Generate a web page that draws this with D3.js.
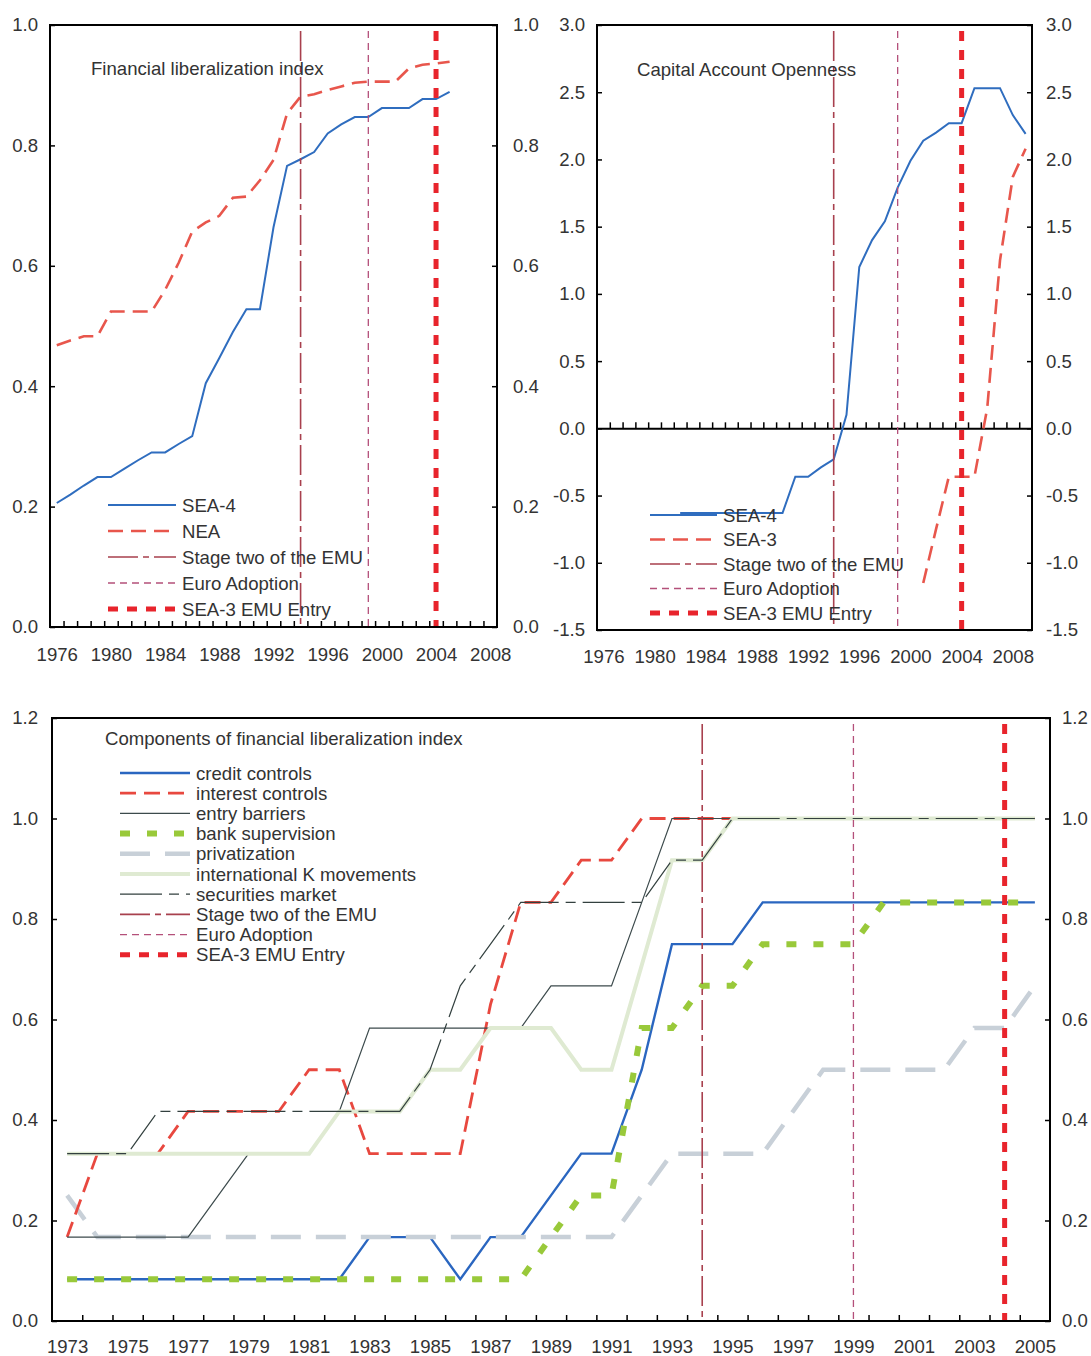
<!DOCTYPE html>
<html>
<head>
<meta charset="utf-8">
<script src="https://cdn.jsdelivr.net/npm/d3@7"></script>
<style>
body { margin: 0; background: #fff; }
text { font-family: "Liberation Sans", Arial, sans-serif; fill: #333; }
</style>
</head>
<body>
<svg id="chart" width="1091" height="1356"></svg>
<script>
// ---- data: financial liberalization index (top left)
var fliYears = [1976,1977,1978,1979,1980,1981,1982,1983,1984,1985,1986,1987,1988,1989,1990,
                1991,1992,1993,1994,1995,1996,1997,1998,1999,2000,2001,2002,2003,2004,2005];
var fliSea4 = [0.206,0.220,0.235,0.249,0.249,0.263,0.277,0.290,0.290,0.304,0.317,0.405,0.447,0.490,0.528,
               0.528,0.664,0.766,0.777,0.789,0.820,0.835,0.847,0.847,0.862,0.862,0.862,0.877,0.877,0.889];
var fliNea = [0.468,0.476,0.483,0.483,0.524,0.524,0.524,0.524,0.560,0.605,0.657,0.672,0.683,0.713,0.715,
              0.742,0.776,0.853,0.881,0.885,0.892,0.898,0.904,0.906,0.906,0.906,0.928,0.934,0.936,0.939];

// ---- data: capital account openness (top right)
var kaoSea4Years = [1982,1983,1984,1985,1986,1987,1988,1989,1990,1991,1992,1993,1994,1995,
                    1996,1997,1998,1999,2000,2001,2002,2003,2004,2005,2006,2007,2008,2009];
var kaoSea4 = [-0.63,-0.63,-0.63,-0.63,-0.63,-0.63,-0.63,-0.63,-0.63,-0.36,-0.36,-0.29,-0.23,0.10,
               1.20,1.40,1.54,1.79,1.99,2.14,2.20,2.27,2.27,2.53,2.53,2.53,2.33,2.19];
var kaoSea3Years = [2001,2002,2003,2004,2005,2006,2007,2008,2009];
var kaoSea3 = [-1.15,-0.75,-0.36,-0.36,-0.36,0.15,1.25,1.87,2.08];

// ---- data: components of the index (bottom)
var compYears = [1973,1974,1975,1976,1977,1978,1979,1980,1981,1982,1983,1984,1985,1986,1987,1988,1989,
                 1990,1991,1992,1993,1994,1995,1996,1997,1998,1999,2000,2001,2002,2003,2004,2005];
var creditControls = [0.083,0.083,0.083,0.083,0.083,0.083,0.083,0.083,0.083,0.083,0.167,0.167,0.167,0.083,0.167,0.167,0.250,
                      0.333,0.333,0.500,0.750,0.750,0.750,0.833,0.833,0.833,0.833,0.833,0.833,0.833,0.833,0.833,0.833];
var interestControls = [0.167,0.333,0.333,0.333,0.417,0.417,0.417,0.417,0.500,0.500,0.333,0.333,0.333,0.333,0.630,0.833,0.833,
                        0.917,0.917,1,1,1,1,1,1,1,1,1,1,1,1,1,1];
var entryBarriers = [0.167,0.167,0.167,0.167,0.167,0.250,0.333,0.333,0.333,0.417,0.583,0.583,0.583,0.583,0.583,0.583,0.667,
                     0.667,0.667,0.833,1,1,1,1,1,1,1,1,1,1,1,1,1];
var bankSupervision = [0.083,0.083,0.083,0.083,0.083,0.083,0.083,0.083,0.083,0.083,0.083,0.083,0.083,0.083,0.083,0.083,0.167,
                       0.250,0.250,0.583,0.583,0.667,0.667,0.750,0.750,0.750,0.750,0.833,0.833,0.833,0.833,0.833,0.833];
var privatization = [0.250,0.167,0.167,0.167,0.167,0.167,0.167,0.167,0.167,0.167,0.167,0.167,0.167,0.167,0.167,0.167,0.167,
                     0.167,0.167,0.250,0.333,0.333,0.333,0.333,0.417,0.500,0.500,0.500,0.500,0.500,0.583,0.583,0.667];
var intlKMovements = [0.333,0.333,0.333,0.333,0.333,0.333,0.333,0.333,0.333,0.417,0.417,0.417,0.500,0.500,0.583,0.583,0.583,
                      0.500,0.500,0.708,0.917,0.917,1,1,1,1,1,1,1,1,1,1,1];
var securitiesMarket = [0.333,0.333,0.333,0.417,0.417,0.417,0.417,0.417,0.417,0.417,0.417,0.417,0.500,0.667,0.750,0.833,0.833,
                        0.833,0.833,0.833,0.917,0.917,1,1,1,1,1,1,1,1,1,1,1];

// ---- events (vertical markers)
var eventNames = ["Stage two of the EMU", "Euro Adoption", "SEA-3 EMU Entry"];
var eventYears = [1994, 1999, 2004];

// ---- tick labels
var fliXLabels = [1976,1980,1984,1988,1992,1996,2000,2004,2008];
var fliYTicks = [0,0.2,0.4,0.6,0.8,1.0];
var kaoXLabels = [1976,1980,1984,1988,1992,1996,2000,2004,2008];
var kaoYTicks = [-1.5,-1.0,-0.5,0,0.5,1.0,1.5,2.0,2.5,3.0];
var compXLabels = [1973,1975,1977,1979,1981,1983,1985,1987,1989,1991,1993,1995,1997,1999,2001,2003,2005];
var compYTicks = [0,0.2,0.4,0.6,0.8,1.0,1.2];

var fontSize = 18.6;

// line looks, keyed by legend name
var looks = {
  "SEA-4":                     {color:"#2f6dbf", width:2,   dash:null},
  "NEA":                       {color:"#e8564c", width:2.6, dash:"15,8"},
  "SEA-3":                     {color:"#e8564c", width:2.6, dash:"15,8"},
  "credit controls":           {color:"#2a66c0", width:2.4, dash:null},
  "interest controls":         {color:"#e8483f", width:2.8, dash:"16,8"},
  "entry barriers":            {color:"#3c4a4c", width:1.2, dash:null},
  "bank supervision":          {color:"#99c93a", width:6,   dash:"10,17"},
  "privatization":             {color:"#c8d0d8", width:4.5, dash:"30,15"},
  "international K movements": {color:"#dfead2", width:4,   dash:null},
  "securities market":         {color:"#33403f", width:1.2, dash:"42,7,10,7"},
  "Stage two of the EMU":      {color:"#a8404e", width:1.6, dash:"30,5,6,5"},
  "Euro Adoption":             {color:"#b4507a", width:1.3, dash:"7,5"},
  "SEA-3 EMU Entry":           {color:"#e8242c", width:5,   dash:"10,9"}
};

var svg = d3.select("#chart");

function styleLine(sel, name) {
  var lk = looks[name];
  sel.attr("fill", "none")
     .attr("stroke", lk.color)
     .attr("stroke-width", lk.width)
     .attr("stroke-dasharray", lk.dash);
}

function fmt(d) { return d.toFixed(1); }

function drawPanel(p) {
  var g = svg.append("g");
  var x = d3.scaleLinear().domain(p.xDomain).range([p.left, p.right]);
  var y = d3.scaleLinear().domain(p.yDomain).range([p.bottom, p.top]);

  // y axes, ticks pointing inside
  var yl = g.append("g").attr("transform", "translate(" + p.left + ",0)")
    .call(d3.axisLeft(y).tickValues(p.yTicks).tickSizeInner(-5).tickSizeOuter(0).tickPadding(p.padL).tickFormat(fmt));
  var yr = g.append("g").attr("transform", "translate(" + p.right + ",0)")
    .call(d3.axisRight(y).tickValues(p.yTicks).tickSizeInner(-5).tickSizeOuter(0).tickPadding(p.padR).tickFormat(fmt));

  // year ticks at category borders
  var borders = d3.range(p.xDomain[0] + 1, p.xDomain[1], 1);
  var xt = g.append("g").attr("transform", "translate(0," + y(p.xAxisAt) + ")")
    .call(d3.axisBottom(x).tickValues(borders).tickSizeInner(-6).tickSizeOuter(0).tickFormat(""));
  if (p.xAxisAt != p.yDomain[0]) {
    xt.select(".domain").attr("stroke", "#000").attr("stroke-width", 2);
  }

  var xl = g.append("g").attr("transform", "translate(0," + p.bottom + ")")
    .call(d3.axisBottom(x).tickValues(p.xLabels).tickSize(0).tickPadding(p.padX).tickFormat(d3.format("d")));

  [yl, yr, xt, xl].forEach(function(a) {
    a.selectAll(".tick line").attr("stroke", "#000").attr("stroke-width", 1.5);
    a.selectAll("text").attr("font-size", fontSize).attr("font-family", null).attr("fill", "#333");
  });
  [yl, yr, xl].forEach(function(a) { a.select(".domain").remove(); });
  if (p.xAxisAt == p.yDomain[0]) xt.select(".domain").remove();

  // data series
  p.series.forEach(function(s) {
    var line = d3.line().x(function(d) { return x(d[0]); }).y(function(d) { return y(d[1]); });
    g.append("path").datum(d3.zip(s.years, s.values)).attr("d", line).call(styleLine, s.name);
  });

  // event markers
  eventNames.forEach(function(name, i) {
    g.append("line")
      .attr("x1", x(eventYears[i])).attr("x2", x(eventYears[i]))
      .attr("y1", p.top + 6).attr("y2", p.bottom)
      .call(styleLine, name);
  });

  // frame
  g.append("rect")
    .attr("x", p.left).attr("y", p.top)
    .attr("width", p.right - p.left).attr("height", p.bottom - p.top)
    .attr("fill", "none").attr("stroke", "#000").attr("stroke-width", 2);

  // title
  g.append("text").attr("x", p.titleX).attr("y", p.titleY)
    .attr("font-size", fontSize).text(p.title);

  // legend
  var lg = g.append("g");
  p.legend.forEach(function(name, i) {
    var ly = p.legY + i * p.legDy;
    lg.append("line").attr("x1", p.legX1).attr("x2", p.legX2)
      .attr("y1", ly).attr("y2", ly).call(styleLine, name);
    lg.append("text").attr("x", p.legX2 + 6).attr("y", ly).attr("dy", "0.35em")
      .attr("font-size", fontSize).text(name);
  });
}

// top left
drawPanel({
  left: 50, right: 497, top: 25, bottom: 627,
  xDomain: [1975.5, 2008.5], yDomain: [0, 1.0], xAxisAt: 0,
  yTicks: fliYTicks, xLabels: fliXLabels, padL: 12, padR: 16, padX: 21,
  series: [
    {name: "SEA-4", years: fliYears, values: fliSea4},
    {name: "NEA", years: fliYears, values: fliNea}
  ],
  title: "Financial liberalization index", titleX: 91, titleY: 75,
  legend: ["SEA-4", "NEA"].concat(eventNames),
  legX1: 108, legX2: 176, legY: 505, legDy: 26
});

// top right
drawPanel({
  left: 597, right: 1032, top: 25, bottom: 630,
  xDomain: [1975.5, 2009.5], yDomain: [-1.5, 3.0], xAxisAt: 0,
  yTicks: kaoYTicks, xLabels: kaoXLabels, padL: 12, padR: 14, padX: 20,
  series: [
    {name: "SEA-4", years: kaoSea4Years, values: kaoSea4},
    {name: "SEA-3", years: kaoSea3Years, values: kaoSea3}
  ],
  title: "Capital Account Openness", titleX: 637, titleY: 76,
  legend: ["SEA-4", "SEA-3"].concat(eventNames),
  legX1: 650, legX2: 717, legY: 515, legDy: 24.5
});

// bottom
drawPanel({
  left: 52, right: 1050, top: 718, bottom: 1321,
  xDomain: [1972.5, 2005.5], yDomain: [0, 1.2], xAxisAt: 0,
  yTicks: compYTicks, xLabels: compXLabels, padL: 14, padR: 12, padX: 19,
  series: [
    {name: "credit controls", years: compYears, values: creditControls},
    {name: "privatization", years: compYears, values: privatization},
    {name: "interest controls", years: compYears, values: interestControls},
    {name: "entry barriers", years: compYears, values: entryBarriers},
    {name: "international K movements", years: compYears, values: intlKMovements},
    {name: "securities market", years: compYears, values: securitiesMarket},
    {name: "bank supervision", years: compYears, values: bankSupervision}
  ],
  title: "Components of financial liberalization index", titleX: 105, titleY: 745,
  legend: ["credit controls", "interest controls", "entry barriers", "bank supervision", "privatization",
           "international K movements", "securities market"].concat(eventNames),
  legX1: 120, legX2: 190, legY: 773, legDy: 20.2
});
</script>
</body>
</html>
